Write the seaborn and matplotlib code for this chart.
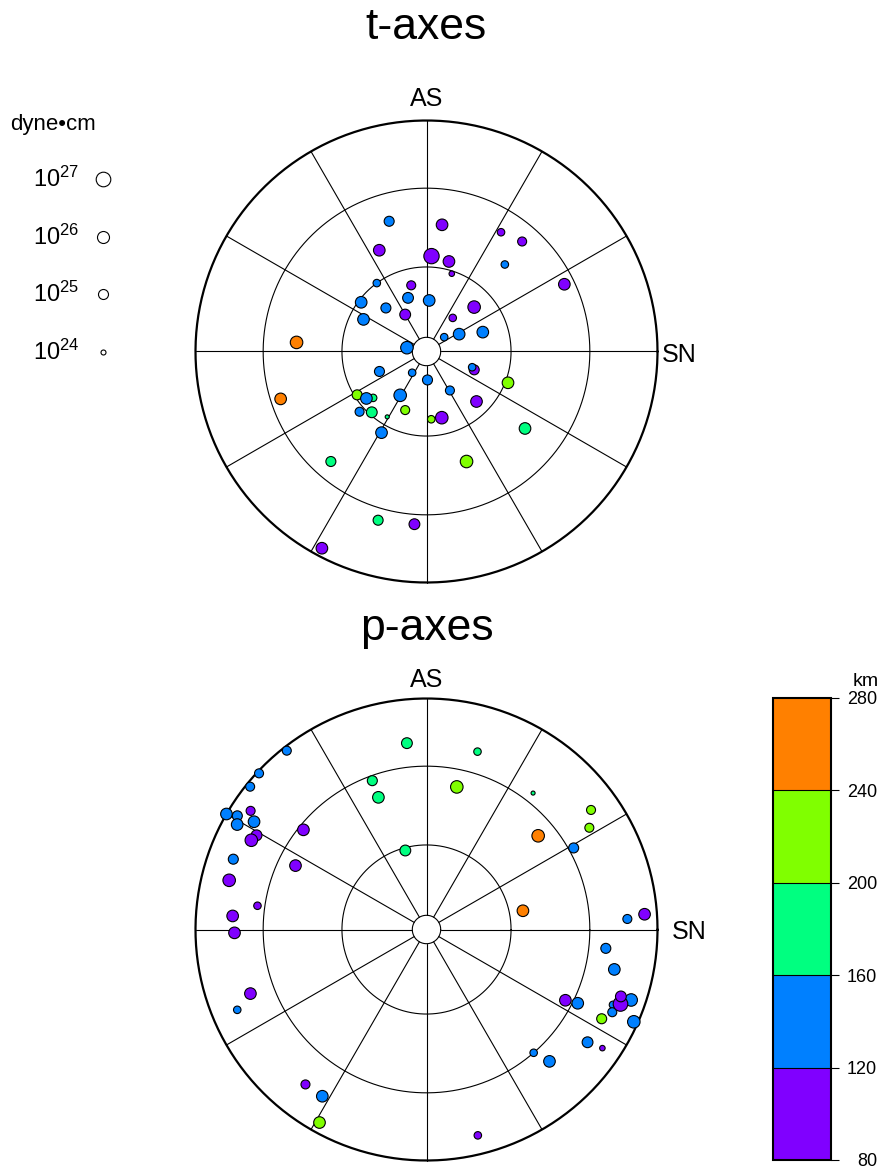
import numpy as np
import pandas as pd
import seaborn as sns
import matplotlib
matplotlib.use("Agg")
from matplotlib import pyplot as plt
from matplotlib.colors import ListedColormap, BoundaryNorm
from matplotlib.cm import ScalarMappable

# t-axes: trend (deg), plunge (deg), depth (km), log10 moment (dyne*cm)
t_trend = [344, 7, 335, 3, 324, 347, 341, 3, 307, 317, 330, 297, 274, 281,
           14, 18, 32, 41, 42, 64, 47, 38, 71, 62, 51, 247, 214, 178, 211,
           252, 238, 229, 232, 228, 222, 211, 200, 176, 167, 209, 221, 196,
           184, 208, 111, 109, 149, 111, 135, 128, 160]
t_plunge = [41, 44, 50, 56, 60, 66, 70, 72, 61, 69, 75, 65, 43, 83,
            57, 61, 39, 37, 48, 34, 67, 75, 69, 77, 82, 72, 81, 80, 72,
            34, 61, 65, 63, 58, 61, 63, 68, 66, 66, 57, 37, 25,
            26, 4, 72, 73, 74, 59, 65, 45, 48]
t_depth = [140, 100, 100, 100, 140, 100, 140, 140, 140, 140, 100, 140, 260, 140,
           100, 100, 100, 100, 140, 100, 100, 100, 140, 140, 140, 140, 140, 140, 140,
           260, 220, 180, 140, 140, 180, 180, 220, 220, 100, 140, 180, 180,
           100, 100, 100, 140, 140, 220, 100, 180, 220]
t_moment = [25.0, 25.8, 25.8, 27.3, 24.5, 24.8, 25.4, 25.8, 25.8, 25.0, 25.4, 25.8, 26.2, 26.2,
            25.8, 24.1, 24.5, 24.8, 24.5, 25.8, 26.2, 24.5, 25.8, 25.8, 24.5, 25.0, 24.5, 25.0, 26.2,
            25.8, 25.0, 24.5, 25.8, 24.8, 25.4, 23.7, 24.8, 24.5, 26.2, 25.8, 25.0, 25.0,
            25.4, 25.8, 25.0, 24.5, 24.8, 25.8, 25.8, 25.8, 26.2]

# p-axes
p_trend = [354, 340, 340, 345, 322, 313, 309, 304, 300, 301, 299, 302, 299, 297,
           309, 296, 290, 284, 278, 274, 269, 250, 247, 218, 212, 209, 16, 12,
           38, 54, 58, 50, 61, 79, 87, 86, 96, 102, 117, 116, 112, 114, 109,
           111, 109, 114, 117, 125, 124, 139, 137, 166]
p_plunge = [20, 32, 39, 61, 2, 1, 2, 9, 0, 5, 7, 13, 17, 16,
            32, 37, 12, 13, 27, 17, 18, 20, 12, 16, 16, 5, 21, 37,
            26, 13, 18, 37, 28, 55, 14, 6, 23, 18, 33, 28, 14, 13, 7,
            11, 12, 2, 16, 16, 9, 30, 23, 9]
p_depth = [180, 180, 180, 180, 140, 140, 140, 100, 140, 140, 140, 140, 100, 100,
           100, 100, 140, 100, 100, 100, 100, 100, 140, 100, 140, 220, 180, 220,
           180, 220, 220, 260, 140, 260, 140, 100, 140, 140, 100, 140, 140, 140, 140,
           100, 100, 140, 220, 140, 100, 140, 140, 100]
p_moment = [25.4, 25.0, 25.8, 25.4, 24.8, 24.8, 24.8, 24.8, 25.8, 25.0, 25.8, 25.8, 25.4, 26.2,
            25.8, 25.8, 25.0, 26.2, 24.5, 25.8, 25.8, 25.8, 24.5, 24.8, 25.8, 25.8, 24.5, 26.2,
            23.7, 24.8, 24.8, 26.2, 25.0, 25.8, 24.8, 25.8, 25.0, 25.8, 25.8, 25.8, 24.5, 24.8, 26.2,
            27.0, 25.4, 26.2, 25.0, 25.4, 24.1, 24.5, 25.8, 24.5]

depth_colors = ["#8000ff", "#0080ff", "#00ff80", "#80ff00", "#ff8000"]
depth_bounds = [80, 120, 160, 200, 240, 280]
legend_moments = [27, 26, 25, 24]

sns.set_style("white")
plt.rcParams["font.family"] = ["Liberation Sans", "DejaVu Sans"]
plt.rcParams["mathtext.fontset"] = "custom"
plt.rcParams["mathtext.rm"] = "Liberation Sans"
plt.rcParams["mathtext.it"] = "Liberation Sans:italic"
plt.rcParams["text.color"] = "black"
plt.rcParams["ytick.color"] = "black"

cmap = ListedColormap(depth_colors)
norm = BoundaryNorm(depth_bounds, cmap.N)

W, H = 882, 1170
R = 231      # net radius in pixels
L = 1.12     # half extent of net axes in net units


def marker_area(logm):
    diam_px = np.interp(logm, [23.5, 24, 25, 26, 27, 27.5], [3.4, 5.0, 10.0, 12.0, 14.6, 15.8])
    return (diam_px * 72 / 100) ** 2


def equal_area(trend, plunge):
    r = np.sqrt(2) * np.sin(np.radians(90 - np.asarray(plunge, float)) / 2)
    t = np.radians(np.asarray(trend, float))
    return r * np.sin(t), r * np.cos(t)


def net_axes(cx, cy):
    return fig.add_axes([(cx - L * R) / W, 1 - (cy + L * R) / H, 2 * L * R / W, 2 * L * R / H])


def draw_net(ax):
    th = np.linspace(0, 2 * np.pi, 500)
    for p in (60, 30):
        rr = np.sqrt(2) * np.sin(np.radians(90 - p) / 2)
        ax.plot(rr * np.cos(th), rr * np.sin(th), color="black", lw=0.8)
    ax.plot(np.cos(th), np.sin(th), color="black", lw=1.6)
    r0 = 0.0615
    ax.plot(r0 * np.cos(th), r0 * np.sin(th), color="black", lw=0.8)
    for az in range(0, 360, 30):
        a = np.radians(az)
        ax.plot([r0 * np.sin(a), np.sin(a)], [r0 * np.cos(a), np.cos(a)], color="black", lw=0.8)


def draw_points(ax, trend, plunge, depth, moment):
    x, y = equal_area(trend, plunge)
    df = pd.DataFrame({"x": x, "y": y, "depth": depth, "moment": moment})
    pal = {d: cmap(norm(d)) for d in df["depth"].unique()}
    sizes = {m: marker_area(m) for m in df["moment"].unique()}
    sns.scatterplot(data=df, x="x", y="y", hue="depth", palette=pal,
                    size="moment", sizes=sizes, edgecolor="black", linewidth=0.8,
                    legend=False, ax=ax, zorder=3, clip_on=False)
    ax.set_xlim(-L, L)
    ax.set_ylim(-L, L)
    ax.axis("off")


fig = plt.figure(figsize=(8.82, 11.7), dpi=100)

# t-axes net
ax_t = net_axes(426.5, 351.5)
draw_net(ax_t)
draw_points(ax_t, t_trend, t_plunge, t_depth, t_moment)
ax_t.text(0, 1.353, "t-axes", ha="center", va="baseline", fontsize=32)
ax_t.text(0, 1.063, "AS", ha="center", va="baseline", fontsize=18)
ax_t.text(1.02, -0.045, "SN", ha="left", va="baseline", fontsize=18)

# p-axes net
ax_p = net_axes(426.5, 929.5)
draw_net(ax_p)
draw_points(ax_p, p_trend, p_plunge, p_depth, p_moment)
ax_p.text(0, 1.253, "p-axes", ha="center", va="baseline", fontsize=32)
ax_p.text(0, 1.048, "AS", ha="center", va="baseline", fontsize=18)
ax_p.text(1.063, -0.04, "SN", ha="left", va="baseline", fontsize=18)

# depth colorbar
cax = fig.add_axes([773 / W, 1 - 1160 / H, 58 / W, 462 / H])
sm = ScalarMappable(norm=norm, cmap=cmap)
cb = fig.colorbar(sm, cax=cax, ticks=depth_bounds, drawedges=True)
cb.outline.set_linewidth(1.5)
cb.outline.set_edgecolor("black")
cb.dividers.set_linewidth(0.8)
cb.dividers.set_color("black")
cax.tick_params(length=5.8, width=0.8, labelsize=13, pad=27.4, color="black")
for lab in cax.get_yticklabels():
    lab.set_ha("right")

# size legend and km label on an overlay in pixel units
leg = fig.add_axes([0, 0, 1, 1])
leg.set_xlim(0, W)
leg.set_ylim(H, 0)
leg.axis("off")
leg.text(10, 130, "dyne\u2022cm", fontsize=16, ha="left", va="baseline")
for i, m in enumerate(legend_moments):
    cy = 179 + i * 57.7
    leg.scatter([103], [cy], s=marker_area(m), facecolor="white", edgecolor="black", linewidth=0.8)
    leg.text(79, cy + 8, rf"$10^{{{m}}}$", fontsize=17, ha="right", va="baseline")
leg.text(879, 686, "km", fontsize=14, ha="right", va="baseline")

fig.savefig("out.png", dpi=100)
